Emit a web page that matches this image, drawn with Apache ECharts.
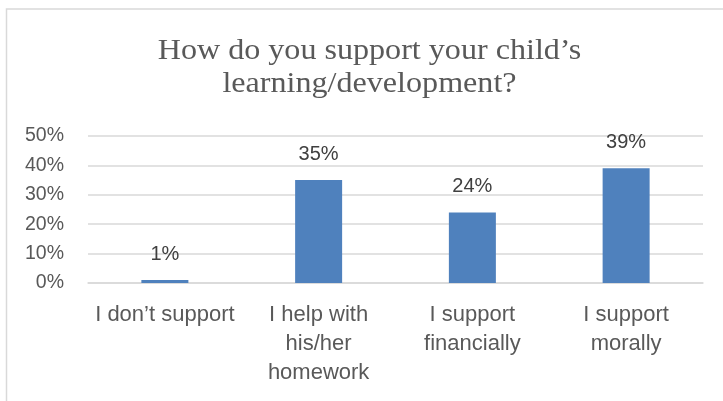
<!DOCTYPE html>
<html>
<head>
<meta charset="utf-8">
<script src="https://cdn.jsdelivr.net/npm/echarts@6/dist/echarts.min.js"></script>
<style>html,body{margin:0;padding:0;background:#fff}#c{width:723px;height:401px}</style>
</head>
<body>
<div id="c"></div>
<script>
const titleLines = ["How do you support your child\u2019s", "learning/development?"];
const categories = ["I don\u2019t support", "I help with\nhis/her\nhomework", "I support\nfinancially", "I support\nmorally"];
const values = [1, 35, 24, 39];
const yTicks = { min: 0, max: 50, interval: 10 };

const chart = echarts.init(document.getElementById('c'), null, { renderer: 'canvas' });
const sans = "'Liberation Sans', Arial, sans-serif";
chart.setOption({
  animation: false,
  backgroundColor: '#fff',
  graphic: [
    { type: 'rect', shape: { x: 6.5, y: 9, width: 800, height: 500 }, style: { fill: 'none', stroke: '#D9D9D9', lineWidth: 1.5 }, silent: true },
    { type: 'text', x: 369.5, y: 35, scaleX: 1.07, style: { text: titleLines.join('\n'), fontFamily: "'Liberation Serif', 'Times New Roman', serif", fontSize: 30, lineHeight: 33, fill: '#595959', align: 'center', verticalAlign: 'top' } }
  ],
  grid: { left: 88, right: 20, top: 136, bottom: 118 },
  xAxis: {
    type: 'category',
    data: categories,
    axisLine: { lineStyle: { color: '#D9D9D9', width: 1.5 } },
    axisTick: { show: false },
    axisLabel: { color: '#595959', fontFamily: sans, fontSize: 22, lineHeight: 29, margin: 17, interval: 0 }
  },
  yAxis: {
    type: 'value',
    min: yTicks.min, max: yTicks.max, interval: yTicks.interval,
    axisLine: { show: false },
    axisTick: { show: false },
    splitLine: { lineStyle: { color: '#D9D9D9', width: 1.5 } },
    axisLabel: { color: '#595959', fontFamily: sans, fontSize: 19.5, margin: 24, formatter: '{value}%' }
  },
  series: [{
    type: 'bar',
    data: values,
    barWidth: 47,
    itemStyle: { color: '#4F81BD' },
    label: { show: true, position: 'top', distance: 16, formatter: '{c}%', color: '#404040', fontFamily: sans, fontSize: 20 }
  }]
});
</script>
</body>
</html>
